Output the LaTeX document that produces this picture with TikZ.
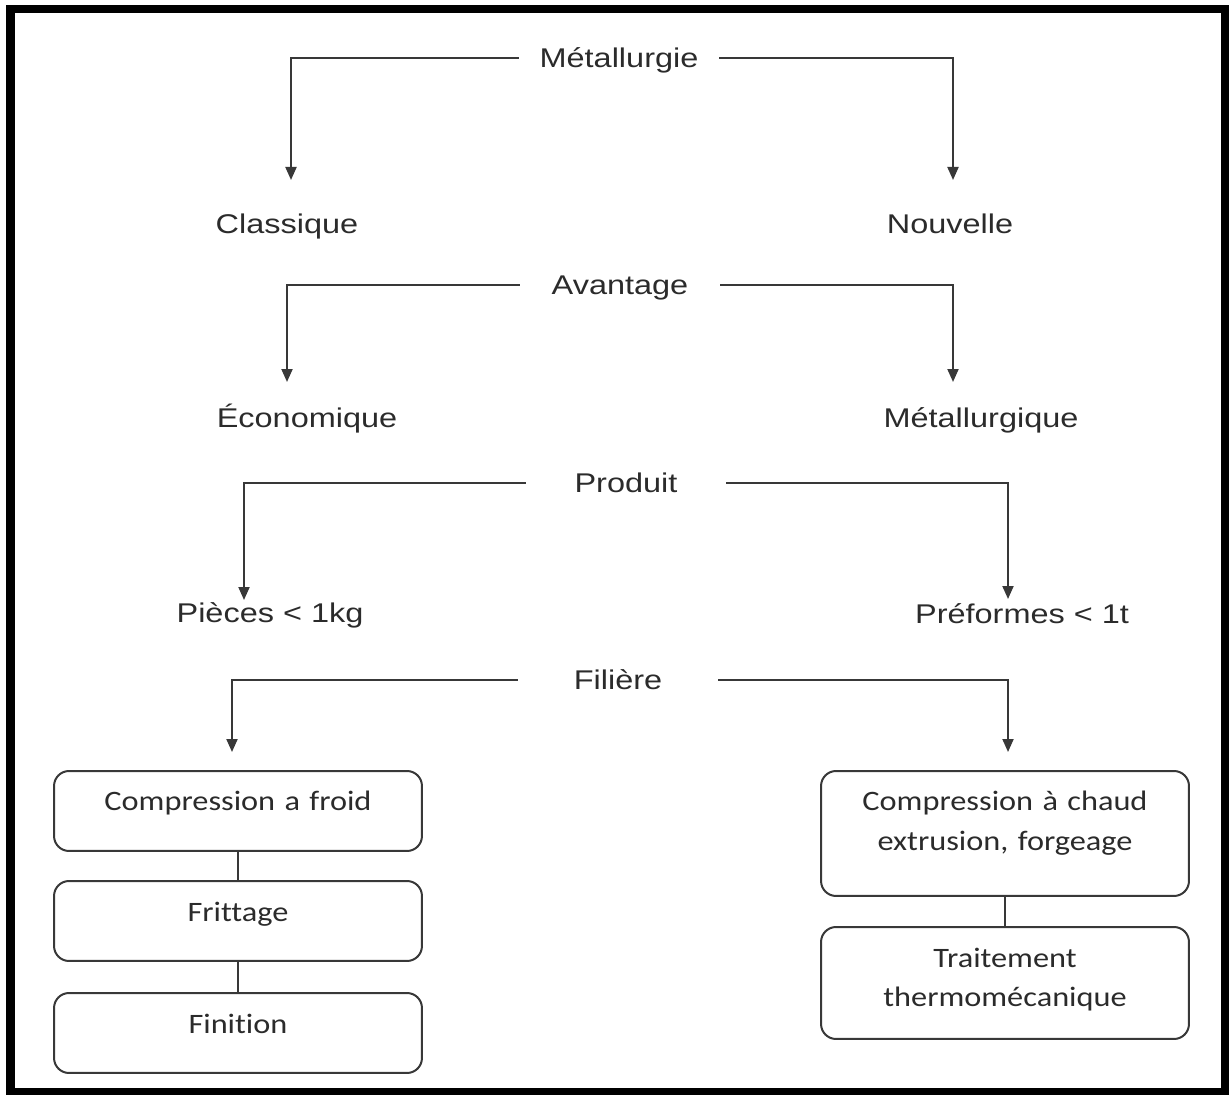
\documentclass[tikz,border=0pt]{standalone}
\usepackage{fontspec}
\usepackage{tikz}
\usetikzlibrary{arrows.meta, positioning}
\usepackage{xcolor}
\newfontfamily\labelfont[FakeStretch=1.2]{Liberation Sans}
\newfontfamily\boxfont[FakeStretch=1.15, Ligatures=NoCommon]{Carlito}
\definecolor{inkgray}{HTML}{2B2B2B}
\definecolor{linegray}{HTML}{383838}

\begin{document}
\begin{tikzpicture}[x=0.02cm, y=-0.02cm,
    head/.style={font=\labelfont\fontsize{15.4pt}{18pt}\selectfont, text=inkgray, inner sep=0, text height=0.39cm, text depth=0pt, minimum width=4cm},
    leaf/.style={font=\labelfont\fontsize{15.4pt}{18pt}\selectfont, text=inkgray, inner sep=0, text height=0.39cm, text depth=0pt},
    box/.style={draw=linegray, line width=0.04cm, rounded corners=0.3cm, anchor=north, text width=7.36cm, align=center, inner sep=0, text height=0.8cm, font=\boxfont\fontsize{16pt}{0.8cm}\selectfont, text=inkgray},
    arr/.style={draw=linegray, line width=0.04cm, -{Triangle[width=0.22cm,length=0.26cm]}},
    link/.style={draw=linegray, line width=0.04cm}]
        \useasboundingbox (0,0) rectangle (1229,1094);
        % Frame
        \draw[line width=0.17cm] (10.5,9) rectangle (1225.5,1092);
        % Headers
        \node[head] (met) at (619,58) {Métallurgie};
        \node[head] (ava) at (620,285) {Avantage};
        \node[head] (pro) at (626,483) {Produit};
        \node[head] (fil) at (618,680) {Filière};
        % Leaves
        \node[leaf] (cla) at (287,224) {Classique};
        \node[leaf] (nou) at (950,224) {Nouvelle};
        \node[leaf] (eco) at (307,418) {Économique};
        \node[leaf] (mta) at (981,418) {Métallurgique};
        \node[leaf] (pie) at (270,613) {Pièces < 1kg};
        \node[leaf] (pre) at (1022,614) {Préformes < 1t};
        % Boxes
        \node[box, text depth=0.8cm] (cf) at (238,770) {Compression a froid};
        \node[box, text depth=0.8cm] (fr) at (238,880) {Frittage};
        \node[box, text depth=0.8cm] (fi) at (238,992) {Finition};
        \node[box, text depth=1.7cm] (cc) at (1005,770) {Compression à chaud\\extrusion, forgeage};
        \node[box, text depth=1.44cm] (tt) at (1005,926) {Traitement\\thermomécanique};
        % Arrow tips
        \coordinate (claTip) at (291,180);
        \coordinate (nouTip) at (953,180);
        \coordinate (ecoTip) at (287,382);
        \coordinate (mtaTip) at (953,382);
        \coordinate (pieTip) at (244,600);
        \coordinate (preTip) at (1008,599);
        \coordinate (cfTip) at (232,752);
        \coordinate (ccTip) at (1008,752);
        % Arrows
        \draw[arr] (met.west) -| (claTip);
        \draw[arr] (met.east) -| (nouTip);
        \draw[arr] (ava.west) -| (ecoTip);
        \draw[arr] (ava.east) -| (mtaTip);
        \draw[arr] (pro.west) -| (pieTip);
        \draw[arr] (pro.east) -| (preTip);
        \draw[arr] (fil.west) -| (cfTip);
        \draw[arr] (fil.east) -| (ccTip);
        % Links
        \draw[link] (cf) -- (fr);
        \draw[link] (fr) -- (fi);
        \draw[link] (cc) -- (tt);
    \end{tikzpicture}
\end{document}
